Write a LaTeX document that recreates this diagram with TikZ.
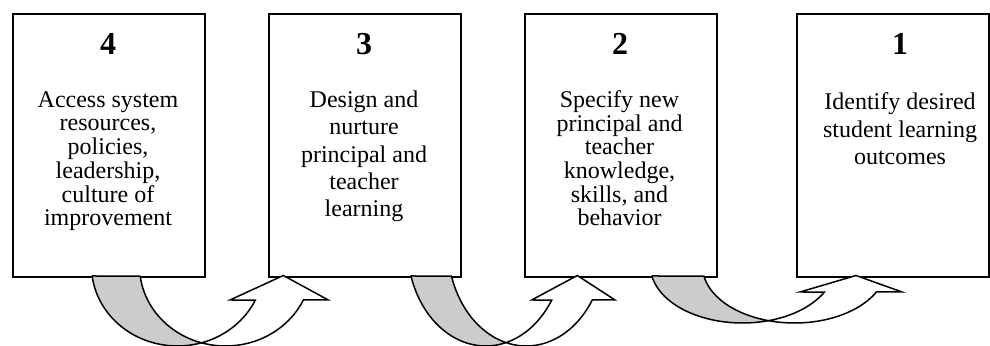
\documentclass[tikz,border=0pt]{standalone}
\usepackage{fontspec}
\setmainfont{Liberation Serif}
\newcommand\uarrow[9]{%
  \pgfmathsetmacro\uA{180-asin((276-#5)/#4)}%
  \pgfmathsetmacro\uP{acos(#2/2/#3)}%
  \pgfmathsetmacro\uPB{180-\uP}%
  \pgfmathsetmacro\uH{asin((#6-#5)/#4)}%
  \pgfmathsetmacro\uXB{#1+#2}%
  \filldraw[back] plot[variable=\q,domain=0:1,samples=60]
      ({#1+#3*cos(\uA+(\uP-\uA)*\q)},{#5+#4*sin(\uA+(\uP-\uA)*\q)})
    -- plot[variable=\q,domain=0:1,samples=60]
      ({\uXB+#3*cos(\uPB+(\uA-\uPB)*\q)},{#5+#4*sin(\uPB+(\uA-\uPB)*\q)})
    -- cycle;
  \filldraw[front] plot[variable=\q,domain=0:1,samples=60]
      ({#1+#3*cos(\uP+(\uH-\uP)*\q)},{#5+#4*sin(\uP+(\uH-\uP)*\q)})
    -- (#7,#6) -- (#8,275.5) -- (#9,#6)
    -- plot[variable=\q,domain=0:1,samples=60]
      ({\uXB+#3*cos(\uH+(\uPB-\uH)*\q)},{#5+#4*sin(\uH+(\uPB-\uH)*\q)})
    -- cycle;
}
\begin{document}
\begin{tikzpicture}[x=0.5pt,y=-0.5pt,
  box/.style={draw, line width=1pt, fill=white, minimum width=96pt, minimum height=131.5pt, inner sep=0pt, anchor=north west},
  num/.style={anchor=base, inner sep=0pt, font=\fontsize{16}{19}\selectfont\bfseries},
  txt/.style={anchor=base, inner sep=0pt},
  back/.style={draw, line width=0.75pt, fill=black!20, line join=round},
  front/.style={draw, line width=0.75pt, fill=white, line join=miter}]
\useasboundingbox (0,0) rectangle (990,346);
\fill[white] (0,0) rectangle (990,346);
\node[box] (b4) at (12,13) {};
\node[box] (b3) at (268,13) {};
\node[box] (b2) at (523.5,13) {};
\node[box] (b1) at (796,13) {};

\node[num] (n4) at (108,54.5) {4};
\node[num] (n3) at (364,54.5) {3};
\node[num] (n2) at (620,54.5) {2};
\node[num] (n1) at (900,54.5) {1};

\node[txt] (t4) at (108,107.7) {\fontsize{12}{11.63}\selectfont\begin{tabular}[t]{@{}c@{}}Access system\\ resources,\\ policies,\\ leadership,\\ culture of\\ improvement\end{tabular}};
\node[txt] (t3) at (364,107.7) {\fontsize{12}{13.62}\selectfont\begin{tabular}[t]{@{}c@{}}Design and\\ nurture\\ principal and\\ teacher\\ learning\end{tabular}};
\node[txt] (t2) at (619.5,107.7) {\fontsize{12}{11.6}\selectfont\begin{tabular}[t]{@{}c@{}}Specify new\\ principal and\\ teacher\\ knowledge,\\ skills, and\\ behavior\end{tabular}};
\node[txt] (t1) at (900,110) {\fontsize{12}{13.75}\selectfont\begin{tabular}[t]{@{}c@{}}Identify desired\\ student learning\\ outcomes\end{tabular}};

\uarrow{177.5}{48}{86}{80}{266}{300}{230}{283.3}{328.3}
\uarrow{485.75}{40.5}{78.4}{100}{246}{300}{531.7}{577.3}{615}
\uarrow{742.5}{52}{92}{57}{266}{292}{800}{856}{902}
\end{tikzpicture}
\end{document}
